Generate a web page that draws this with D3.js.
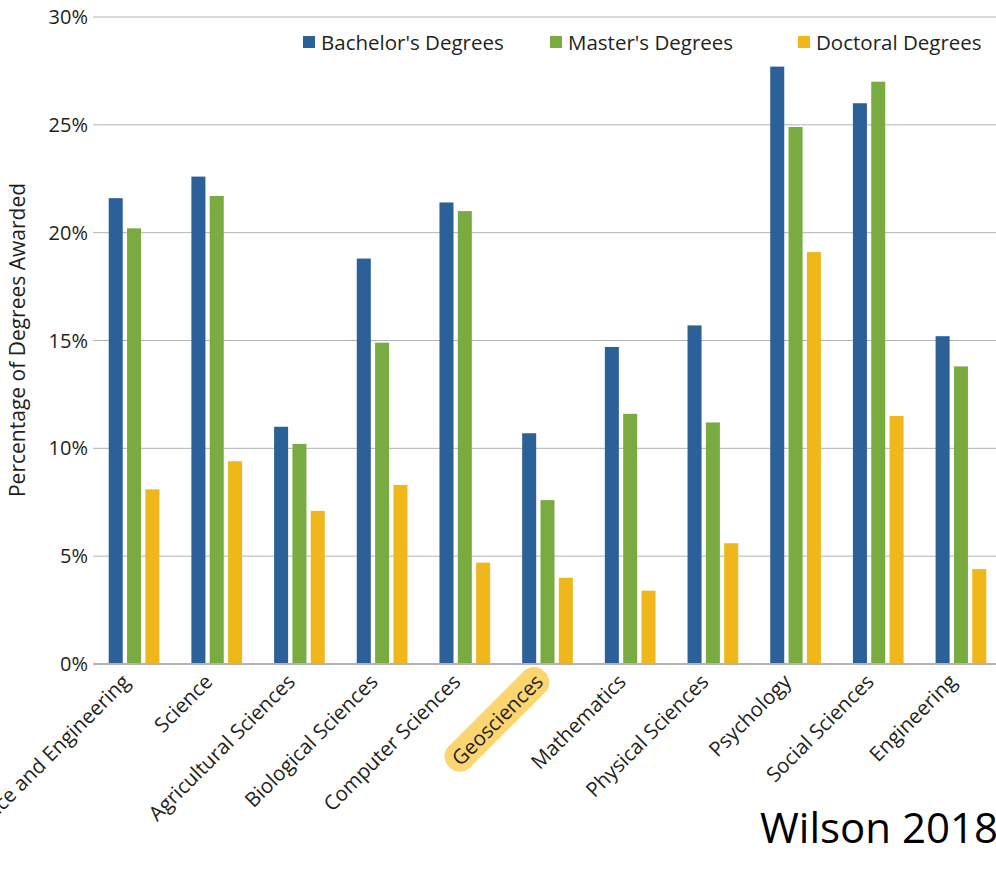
<!DOCTYPE html>
<html>
<head>
<meta charset="utf-8">
<script src="https://cdn.jsdelivr.net/npm/d3@7"></script>
<style>
  body { margin: 0; background: #fff; }
  text { font-family: "Open Sans", sans-serif; fill: #231f20; }
</style>
</head>
<body>
<script>
const fields = ["Science and Engineering", "Science", "Agricultural Sciences", "Biological Sciences",
    "Computer Sciences", "Geosciences", "Mathematics", "Physical Sciences", "Psychology",
    "Social Sciences", "Engineering"];
const seriesNames = ["Bachelor's Degrees", "Master's Degrees", "Doctoral Degrees"];
const bachelors = [21.6, 22.6, 11.0, 18.8, 21.4, 10.7, 14.7, 15.7, 27.7, 26.0, 15.2];
const masters   = [20.2, 21.7, 10.2, 14.9, 21.0, 7.6, 11.6, 11.2, 24.9, 27.0, 13.8];
const doctoral  = [8.1, 9.4, 7.1, 8.3, 4.7, 4.0, 3.4, 5.6, 19.1, 11.5, 4.4];
const yTicks = [0, 5, 10, 15, 20, 25, 30];
const highlighted = "Geosciences";

const colors = ["#2b6099", "#7aab40", "#efb71a"];
const W = 996, H = 873;

const svg = d3.select("body").append("svg").attr("width", W).attr("height", H);

const y = d3.scaleLinear().domain([0, 30]).range([664, 17]);
const x0 = d3.scaleBand().domain(fields).range([93, 1002]).paddingInner(0.387).paddingOuter(0.19);
const x1 = d3.scaleBand().domain(seriesNames).range([0, x0.bandwidth()]).paddingInner(0.235);
const color = d3.scaleOrdinal().domain(seriesNames).range(colors);

// gridlines
svg.append("g")
    .selectAll("line")
    .data(yTicks.filter(d => d > 0))
    .enter().append("line")
    .attr("x1", 93).attr("x2", W)
    .attr("y1", d => y(d)).attr("y2", d => y(d))
    .attr("stroke", "#b3b3b3").attr("stroke-width", 1);

// y labels
svg.append("g")
    .selectAll("text")
    .data(yTicks)
    .enter().append("text")
    .attr("x", 88).attr("y", d => y(d) + 7)
    .attr("text-anchor", "end")
    .style("font-size", "20px")
    .text(d => d + "%");

svg.append("text")
    .attr("transform", "translate(25,340) rotate(-90)")
    .attr("text-anchor", "middle")
    .style("font-size", "21px")
    .text("Percentage of Degrees Awarded");

// bars
const rows = fields.map((f, i) => ({field: f, values: [bachelors[i], masters[i], doctoral[i]]}));
const groups = svg.append("g")
    .selectAll("g")
    .data(rows)
    .enter().append("g")
    .attr("transform", d => `translate(${x0(d.field)},0)`);

groups.selectAll("rect")
    .data(d => d.values.map((v, j) => ({key: seriesNames[j], value: v})))
    .enter().append("rect")
    .attr("x", d => x1(d.key))
    .attr("width", x1.bandwidth())
    .attr("y", d => y(d.value))
    .attr("height", d => y(0) - y(d.value))
    .attr("fill", d => color(d.key));

// baseline
svg.append("line")
    .attr("x1", 93).attr("x2", W)
    .attr("y1", y(0)).attr("y2", y(0))
    .attr("stroke", "#b3b3b3").attr("stroke-width", 2);

// x labels
const labels = svg.append("g")
    .selectAll("g")
    .data(fields)
    .enter().append("g")
    .attr("transform", d => `translate(${x0(d) + x0.bandwidth() / 2 - 3},683) rotate(-45)`);

labels.each(function(d) {
    if (d !== highlighted) return;
    const g = d3.select(this);
    const t = g.append("text").attr("text-anchor", "end").style("font-size", "20.5px").text(d);
    const bb = t.node().getBBox();
    t.remove();
    g.append("rect")
        .attr("x", bb.x - 8).attr("y", bb.y - 1)
        .attr("width", bb.width + 16).attr("height", bb.height + 2)
        .attr("rx", 14)
        .attr("fill", "#fbd670");
});

labels.append("text")
    .attr("text-anchor", "end")
    .style("font-size", "20.5px")
    .text(d => d);

// legend
const legendX = [303, 550, 798];
const legend = svg.append("g")
    .selectAll("g")
    .data(seriesNames)
    .enter().append("g")
    .attr("transform", (d, i) => `translate(${legendX[i]},36)`);

legend.append("rect")
    .attr("width", 12).attr("height", 12)
    .attr("fill", d => color(d));

legend.append("text")
    .attr("x", 18).attr("y", 14)
    .style("font-size", "20.5px")
    .text(d => d);

svg.append("text")
    .attr("x", 760).attr("y", 843)
    .style("font-size", "42px")
    .style("fill", "#000")
    .text("Wilson 2018");
</script>
</body>
</html>
